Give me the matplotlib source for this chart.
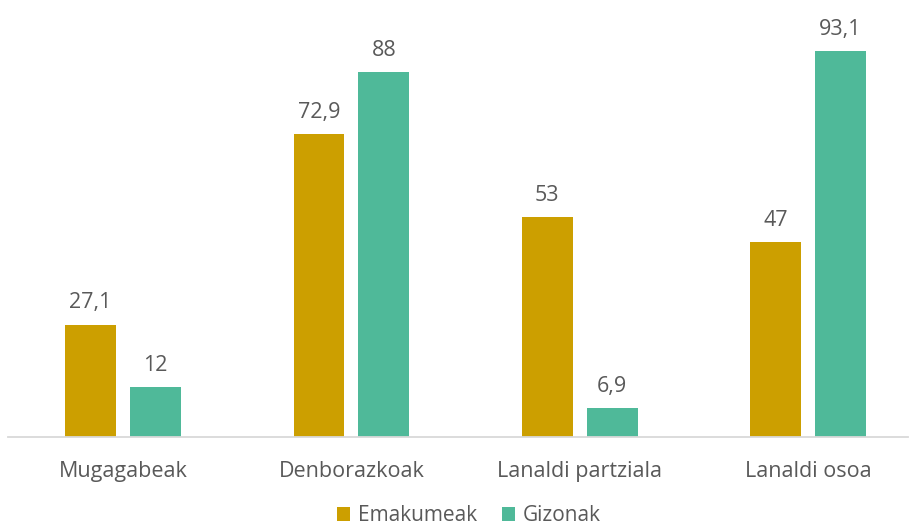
import numpy as np
import matplotlib.pyplot as plt

categories = ["Mugagabeak", "Denborazkoak", "Lanaldi partziala", "Lanaldi osoa"]
emakumeak = [27.1, 72.9, 53, 47]
gizonak = [12, 88, 6.9, 93.1]
series_names = ["Emakumeak", "Gizonak"]

gold = "#CC9F00"
teal = "#4FB999"
grey = "#595959"

plt.rcParams['font.family'] = ['Open Sans', 'DejaVu Sans']

fig = plt.figure(figsize=(9.10, 5.30), dpi=100)
ax = fig.add_axes([8 / 910, 93 / 530, 900 / 910, 415 / 530])

x = np.arange(len(categories))
w = 0.223
off = 0.142

b1 = ax.bar(x - off, emakumeak, w, color=gold, label=series_names[0])
b2 = ax.bar(x + off, gizonak, w, color=teal, label=series_names[1])

def fmt(v):
    s = ("%g" % v).replace(".", ",")
    return s

for bars, vals in [(b1, emakumeak), (b2, gizonak)]:
    ax.bar_label(bars, labels=[fmt(v) for v in vals], padding=8,
                 fontsize=15.5, color=grey)

ax.set_xlim(-0.504, 3.438)
ax.set_ylim(0, 100)
ax.set_yticks([])
ax.set_xticks(x)
ax.set_xticklabels(categories, fontsize=15.5, color=grey)
ax.tick_params(axis='x', length=0, pad=17)
for s in ["top", "right", "left"]:
    ax.spines[s].set_visible(False)
ax.spines["bottom"].set_color("#D9D9D9")
ax.spines["bottom"].set_linewidth(1.3)

fig.legend(loc="lower center", bbox_to_anchor=(0.515, -0.028), ncol=2,
           frameon=False, fontsize=15, labelcolor=grey,
           handlelength=0.65, handleheight=0.65, handletextpad=0.35,
           columnspacing=1.2)

fig.savefig("out.png")
